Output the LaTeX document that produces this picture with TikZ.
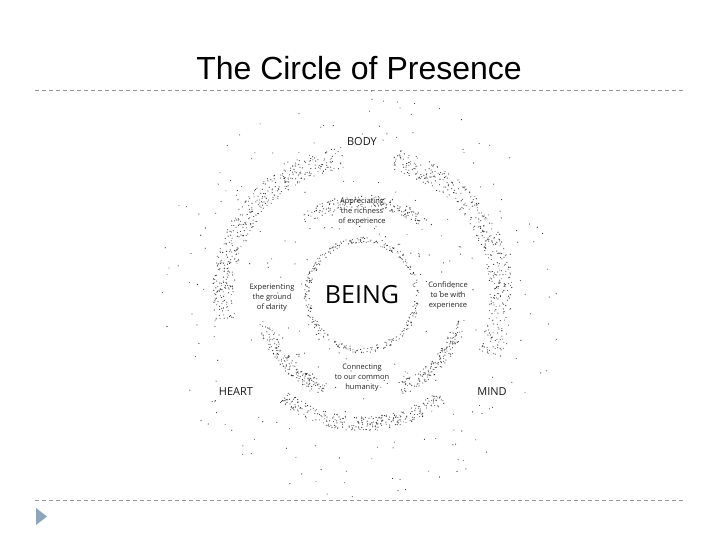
\documentclass[tikz,border=0pt]{standalone}
\usepackage{fontspec}
\usetikzlibrary{calc}
\setmainfont{Open Sans}
\newfontfamily\titlefont{Liberation Sans}
\begin{document}
\begin{tikzpicture}[x=1pt,y=-1pt,
  lbl/.style={font=\fontsize{7.5}{10}\selectfont, align=center, text=black!85},
  big/.style={font=\fontsize{11}{13}\selectfont, text=black!90},
  sep/.style={draw=black!40, dash pattern=on 4pt off 3pt, line width=0.6pt}]
\useasboundingbox (0,0) rectangle (720,540);
\fill[white] (0,0) rectangle (720,540);
\node[font=\titlefont\fontsize{32}{36}\selectfont] (title) at (359,68) {The Circle of Presence};
\coordinate (s1) at (35,90); \coordinate (e1) at (685,90);
\draw[sep] (s1) -- (e1);
\coordinate (s2) at (35,500); \coordinate (e2) at (685,500);
\draw[sep] (s2) -- (e2);
\fill[fill={rgb,255:red,143;green,165;blue,190}] (36,508) -- (47,516.5) -- (36,525) -- cycle;
\coordinate (c) at (362,295);
\pgfmathsetseed{7}
\foreach \a/\b/\ri/\ro/\n in {170/262/128/150/420, 283/385/128/150/420, 52/128/122/136/300,
   112/165/95/108/160, 15/68/95/108/160, 232/270/88/100/80, 275/310/88/100/80,
   0/360/52/58/320, 0/360/150/205/160, 0/360/60/120/120}{
  \foreach \k in {1,...,\n}{
    \pgfmathsetmacro{\ang}{\a+rnd*(\b-\a)}
    \pgfmathsetmacro{\rr}{\ri+rnd*(\ro-\ri)}
    \pgfmathsetmacro{\gg}{50+rnd*40}
    \fill[black!\gg] ($(c)+(\ang:\rr)$) circle (0.6);
  }
}
\fill[white] (c) circle (50);
\node[font=\fontsize{25}{28}\selectfont] (being) at (362,295) {BEING};
\node[big] (body) at (362,142) {BODY};
\node[big] (heart) at (236,392) {HEART};
\node[big] (mind) at (492,392) {MIND};
\node[lbl] (app) at (362,212) {Appreciating\\the richness\\of experience};
\node[lbl] (exp) at (272,298) {Experiencing\\the ground\\of clarity};
\node[lbl] (conf) at (448,296) {Confidence\\to be with\\experience};
\node[lbl] (conn) at (362,378) {Connecting\\to our common\\humanity};
\end{tikzpicture}
\end{document}
